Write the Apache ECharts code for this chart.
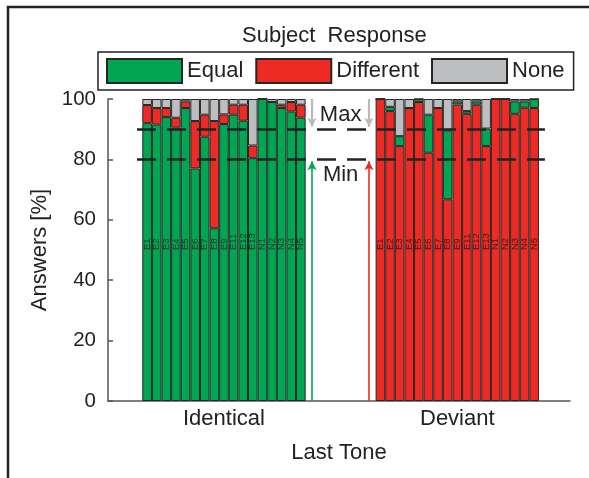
<!DOCTYPE html>
<html><head><meta charset="utf-8">
<script src="https://cdn.jsdelivr.net/npm/echarts@6/dist/echarts.min.js"></script>
<style>html,body{margin:0;padding:0;background:#fff}#c{width:589px;height:478px}</style>
</head><body><div id="c"></div>
<script>
// ---- data ----
const barNames = ['E1','E2','E3','E4','E5','E6','E7','E8','E9','E11','E12','E13','N1','N2','N3','N4','N5'];
const groupNames = ['Identical','Deviant'];
const responseNames = ['Equal','Different','None'];
const identEqual = [92,91.5,94,90.5,97,77,87.5,57.2,91.7,94.8,92.8,80.4,100,99,97,95.8,93.8];
const identDiff  = [6,5.5,3,3.3,2.2,15.7,7.3,35.5,3.2,3.3,5.3,4.2,0,0,1.1,3.2,4.3];
const identNone  = [2,3,3,6.2,0.8,7.3,5.2,7.3,5.1,1.9,1.9,15.4,0,1,1.9,1,1.9];
const devDiff  = [100,96,84.4,97,99,82.2,97,66.8,98.2,95.1,98.1,84.4,100,100,95.1,97.1,97];
const devEqual = [0,1.4,3.3,0,1,12.6,0,22.8,1,0.9,1.1,5.8,0,0,4.1,2.1,3];
const devNone  = [0,2.6,12.3,3,0,5.2,3,10.4,0.8,4,0.8,9.8,0,0,0.8,0.8,0];
const annotationNames = ['Max','Min'];
const maxLevel = 90, minLevel = 80;
const yMin = 0, yMax = 100, yStep = 20;

// ---- layout (in bar-width units) ----
const N = barNames.length;
const PAD_L = 3.57, GAP = 7.28, PAD_R = 3.23;
const XMAX = PAD_L + N + GAP + N + PAD_R;
const startL = PAD_L, startR = PAD_L + N + GAP;
const xs = [];
for (let i = 0; i < N; i++) xs.push(startL + 0.5 + i);
for (let i = 0; i < N; i++) xs.push(startR + 0.5 + i);
const centerL = startL + N / 2, centerR = startR + N / 2;
const arrowL = startL + N + 0.66, arrowR = startR - 0.69;
const gapC = (startL + N + startR) / 2;
const dashFrom = startL - 0.55, dashTo = startR + N + 0.62;
const LABEL_Y = 50;

const GREEN = '#00a651', RED = '#ee2a24', GRAY = '#bcbec0', EDGE = '#262626', INK = '#222';
const FONT = '"Liberation Sans", Arial, Helvetica, sans-serif';

// value first, x position second (so the stack runs along the value dimension)
function groupData(vals, g) {
  return xs.map((x, k) => [(k >= g * N && k < (g + 1) * N) ? vals[k - g * N] : '-', x]);
}
function barSeries(name, vals, g, color) {
  return {
    type: 'bar', name: name, stack: 'all', barWidth: 9.6,
    data: groupData(vals, g),
    encode: { x: 1, y: 0 },
    itemStyle: { color: color, borderColor: EDGE, borderWidth: 1 },
    emphasis: { disabled: true }, silent: true, z: 2
  };
}

const series = [
  barSeries(responseNames[0], identEqual, 0, GREEN),
  barSeries(responseNames[1], identDiff, 0, RED),
  barSeries(responseNames[2], identNone, 0, GRAY),
  barSeries(responseNames[1], devDiff, 1, RED),
  barSeries(responseNames[0], devEqual, 1, GREEN),
  barSeries(responseNames[2], devNone, 1, GRAY),
  {
    type: 'scatter', symbolSize: 0, silent: true, z: 6, itemStyle: { opacity: 1 },
    emphasis: { disabled: true },
    data: xs.map((x, k) => ({ value: [x, LABEL_Y], name: barNames[k % N] })),
    label: { show: true, formatter: '{b}', position: 'inside', rotate: 90, align: 'left', verticalAlign: 'middle',
             fontSize: 9.5, color: 'rgba(20,20,20,0.78)', fontFamily: FONT },
    markLine: {
      silent: true, symbol: 'none', label: { show: false }, z: 7,
      lineStyle: { type: [19, 11], color: INK, width: 2.5 },
      data: [
        [{ coord: [dashFrom, maxLevel] }, { coord: [dashTo, maxLevel] }],
        [{ coord: [dashFrom, minLevel] }, { coord: [dashTo, minLevel] }]
      ]
    }
  },
  {
    type: 'scatter', symbolSize: 0, silent: true, z: 6, itemStyle: { opacity: 1 },
    emphasis: { disabled: true },
    data: [{ value: [gapC, 94.7], name: annotationNames[0] }, { value: [gapC, 74.8], name: annotationNames[1] }],
    label: { show: true, formatter: '{b}', position: 'inside', fontSize: 22, color: INK, fontFamily: FONT },
    markLine: {
      silent: true, symbol: ['none', 'arrow'], symbolSize: [7, 9], label: { show: false }, z: 7,
      data: [
        [{ coord: [arrowL, yMax], lineStyle: { color: '#b9b9b9', width: 2.2, type: 'solid' } }, { coord: [arrowL, maxLevel + 0.8] }],
        [{ coord: [arrowR, yMax], lineStyle: { color: '#b9b9b9', width: 2.2, type: 'solid' } }, { coord: [arrowR, maxLevel + 0.8] }],
        [{ coord: [arrowL, yMin], lineStyle: { color: GREEN, width: 1.6, type: 'solid' } }, { coord: [arrowL, minLevel - 0.6] }],
        [{ coord: [arrowR, yMin], lineStyle: { color: RED, width: 1.6, type: 'solid' } }, { coord: [arrowR, minLevel - 0.6] }]
      ]
    }
  }
];

const chart = echarts.init(document.getElementById('c'), null, { renderer: 'canvas' });
chart.setOption({
  animation: false,
  backgroundColor: '#fff',
  textStyle: { fontFamily: FONT },
  title: { text: 'Subject  Response', left: 242, top: 25, padding: 0,
           textStyle: { fontSize: 22, fontWeight: 'normal', color: INK, fontFamily: FONT } },
  legend: {
    data: responseNames, left: 98, top: 52, orient: 'horizontal', icon: 'rect',
    itemWidth: 75, itemHeight: 24, itemGap: 12, padding: [6, 9, 6, 8],
    borderColor: INK, borderWidth: 1.5, selectedMode: false,
    textStyle: { fontSize: 22, color: INK, fontFamily: FONT }
  },
  grid: { left: 108, right: 19, top: 99, bottom: 77, containLabel: false },
  xAxis: {
    type: 'value', min: 0, max: XMAX,
    axisLine: { show: true, lineStyle: { color: '#555', width: 1.5 } },
    axisTick: { show: false }, splitLine: { show: false },
    axisLabel: { customValues: [centerL, centerR], formatter: v => (v < XMAX / 2 ? groupNames[0] : groupNames[1]),
                 fontSize: 22, color: INK, margin: 7, fontFamily: FONT },
    name: 'Last Tone', nameLocation: 'middle', nameGap: 41,
    nameTextStyle: { fontSize: 22, color: INK, fontFamily: FONT }
  },
  yAxis: {
    type: 'value', min: yMin, max: yMax, interval: yStep,
    axisLine: { show: true, lineStyle: { color: '#555', width: 1.5 } },
    axisTick: { show: true, inside: true, length: 5, lineStyle: { color: '#555', width: 1.5 } },
    splitLine: { show: false },
    axisLabel: { fontSize: 20.5, color: INK, margin: 12, fontFamily: FONT },
    name: 'Answers [%]', nameLocation: 'middle', nameGap: 56, nameRotate: 90,
    nameTextStyle: { fontSize: 22, color: INK, fontFamily: FONT }
  },
  graphic: [{ type: 'rect', silent: true, z: -10, shape: { x: 8, y: 7, width: 700, height: 600 },
              style: { fill: 'none', stroke: INK, lineWidth: 2.5 } }],
  series: series
});
</script>
</body></html>
